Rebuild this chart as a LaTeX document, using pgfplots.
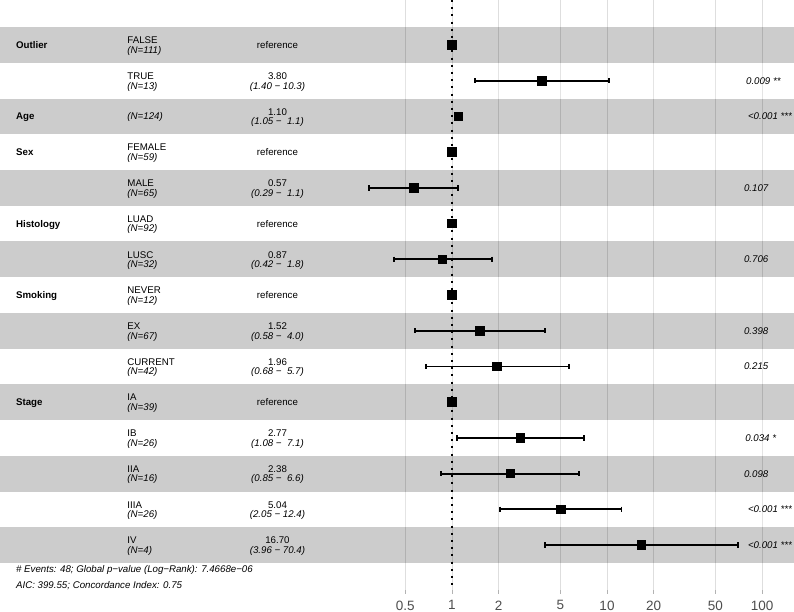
\documentclass[border=0pt]{standalone}
\usepackage{pgfplots}
\pgfplotsset{compat=1.18}
\usepackage{fontspec}
\setmainfont{Liberation Sans}
\definecolor{gridc}{HTML}{DEDEDE}
\definecolor{tickc}{HTML}{4D4D4D}
\definecolor{tickm}{HTML}{B3B3B3}
\newcommand\tx{\fontsize{9.7}{11}\selectfont}
\newcommand\pv[1]{\setbox0\hbox{\tx\itshape #1}\hspace*{0.2\wd0}\box0}
\def\xv{0.001538}
\def\xl{0.008037}
\def\xe{0.07484}
\def\xp{71.06}
\def\XMIN{0.0012133}
\def\XMAX{160.86}
% variable name
\newcommand\var[2]{\node[anchor=base west, inner sep=0pt, yshift=-3.4pt, font=\tx\bfseries] at (axis cs:\xv,#1) {#2};}
% level + N
\newcommand\lev[3]{\node[anchor=base west, inner sep=0pt, yshift=1.3pt, font=\tx] at (axis cs:\xl,#1) {#2};
  \node[anchor=base west, inner sep=0pt, yshift=-8.3pt, font=\tx\itshape] at (axis cs:\xl,#1) {#3};}
% estimate + CI
\newcommand\est[3]{\node[anchor=base, inner sep=0pt, yshift=1.3pt, font=\tx] at (axis cs:\xe,#1) {#2};
  \node[anchor=base, inner sep=0pt, yshift=-8.3pt, font=\tx\itshape] at (axis cs:\xe,#1) {#3};}
\newcommand\refr[1]{\node[anchor=base, inner sep=0pt, yshift=-3.4pt, font=\tx] at (axis cs:\xe,#1) {reference};}
\newcommand\pval[2]{\node[anchor=base west, inner sep=0pt, yshift=-3.5pt, font=\tx\itshape] at (axis cs:\xp,#1) {\pv{#2}};}

\begin{document}
\begin{tikzpicture}
\begin{axis}[
  at={(0,0)}, anchor=south west,
  scale only axis, width=794pt, height=590pt,
  xmode=log, log basis x=10,
  xmin=\XMIN, xmax=\XMAX,
  ymin=-0.2598, ymax=16.2576, y dir=reverse,
  axis line style={draw=none},
  xtick={0.5,1,2,5,10,20,50,100},
  xticklabels={0.5,1,2,5,10,20,50,100},
  ytick=\empty,
  xtick pos=left,
  xmajorgrids=true,
  major grid style={draw=gridc, line width=0.9pt},
  tick align=outside, major tick length=3.5pt,
  xtick style={draw=tickm, line width=0.8pt},
  xticklabel style={font=\fontsize{13.5}{15}\selectfont, text=tickc, inner sep=0pt, yshift=-7pt},
  clip=false,
]
% row bands
\pgfplotsinvokeforeach{1,3,5,7,9,11,13,15}{
  \fill[black, fill opacity=0.2] (axis cs:\XMIN,#1-0.5) rectangle (axis cs:\XMAX,#1+0.5);
}
\pgfplotsinvokeforeach{2,4,6,8,10,12,14}{
  \fill[white, fill opacity=0.2] (axis cs:\XMIN,#1-0.5) rectangle (axis cs:\XMAX,#1+0.5);
}
% reference line
\addplot[black, line width=2pt, line cap=butt, dash pattern=on 2pt off 5.2pt] coordinates {(1,-0.2598) (1,16.2576)};
% confidence intervals
\addplot[black, line width=1.9pt, mark=|, mark size=2.7pt, mark options={solid, line width=1.9pt}, unbounded coords=jump]
table[row sep=\\] {
x y\\
1.40 2\\ 10.3 2\\ nan nan\\
1.05 3\\ 1.1 3\\ nan nan\\
0.29 5\\ 1.1 5\\ nan nan\\
0.42 7\\ 1.8 7\\ nan nan\\
0.58 9\\ 4.0 9\\ nan nan\\
0.68 10\\ 5.7 10\\ nan nan\\
1.08 12\\ 7.1 12\\ nan nan\\
0.85 13\\ 6.6 13\\ nan nan\\
2.05 14\\ 12.4 14\\ nan nan\\
3.96 15\\ 70.4 15\\
};
% hazard ratios
\addplot[only marks, mark=square*, mark size=4.3pt, mark options={draw=black, fill=black, line width=0pt}]
table[row sep=\\] {
x y\\
1 1\\ 3.80 2\\ 1.10 3\\ 1 4\\ 0.57 5\\ 1 6\\ 0.87 7\\ 1 8\\
1.52 9\\ 1.96 10\\ 1 11\\ 2.77 12\\ 2.38 13\\ 5.04 14\\ 16.70 15\\
};
% text columns
\var{1}{Outlier}
\var{3}{Age}
\var{4}{Sex}
\var{6}{Histology}
\var{8}{Smoking}
\var{11}{Stage}

\lev{1}{FALSE}{(N=111)}
\lev{2}{TRUE}{(N=13)}
\node[anchor=base west, inner sep=0pt, yshift=-3.4pt, font=\tx\itshape] at (axis cs:\xl,3) {(N=124)};
\lev{4}{FEMALE}{(N=59)}
\lev{5}{MALE}{(N=65)}
\lev{6}{LUAD}{(N=92)}
\lev{7}{LUSC}{(N=32)}
\lev{8}{NEVER}{(N=12)}
\lev{9}{EX}{(N=67)}
\lev{10}{CURRENT}{(N=42)}
\lev{11}{IA}{(N=39)}
\lev{12}{IB}{(N=26)}
\lev{13}{IIA}{(N=16)}
\lev{14}{IIIA}{(N=26)}
\lev{15}{IV}{(N=4)}

\refr{1}
\est{2}{3.80}{(1.40 − 10.3)}
\est{3}{1.10}{(1.05 −\ \ 1.1)}
\refr{4}
\est{5}{0.57}{(0.29 −\ \ 1.1)}
\refr{6}
\est{7}{0.87}{(0.42 −\ \ 1.8)}
\refr{8}
\est{9}{1.52}{(0.58 −\ \ 4.0)}
\est{10}{1.96}{(0.68 −\ \ 5.7)}
\refr{11}
\est{12}{2.77}{(1.08 −\ \ 7.1)}
\est{13}{2.38}{(0.85 −\ \ 6.6)}
\est{14}{5.04}{(2.05 − 12.4)}
\est{15}{16.70}{(3.96 − 70.4)}

\pval{2}{0.009 **}
\pval{3}{<0.001 ***}
\pval{5}{0.107}
\pval{7}{0.706}
\pval{9}{0.398}
\pval{10}{0.215}
\pval{12}{0.034 *}
\pval{13}{0.098}
\pval{14}{<0.001 ***}
\pval{15}{<0.001 ***}

\node[anchor=base west, inner sep=0pt, font=\tx\itshape] at (axis cs:\xv,15.768) {\# Events: 48; Global p−value (Log−Rank): 7.4668e−06};
\node[anchor=base west, inner sep=0pt, font=\tx\itshape] at (axis cs:\xv,16.216) {AIC: 399.55; Concordance Index: 0.75};
\end{axis}
\pgfresetboundingbox
\path[use as bounding box] (0,-22pt) rectangle (794pt,590pt);
\end{tikzpicture}
\end{document}
